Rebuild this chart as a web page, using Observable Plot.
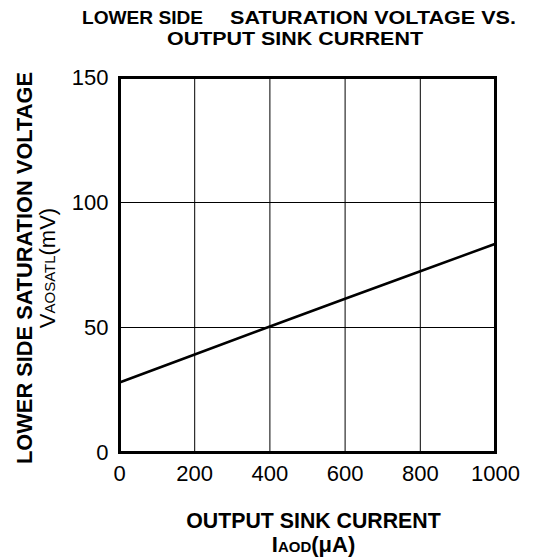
<!DOCTYPE html>
<html>
<head>
<meta charset="utf-8">
<script src="https://cdn.jsdelivr.net/npm/d3@7"></script>
<script src="https://cdn.jsdelivr.net/npm/@observablehq/plot@0.6"></script>
<style>
  html, body { margin: 0; padding: 0; background: #fff; }
  #chart svg { display: block; }
</style>
</head>
<body>
<div id="chart"></div>
<script>
const FONT = '"Liberation Sans", Arial, Helvetica, sans-serif';

// Data
const sinkCurrent = [0, 200, 400, 600, 800, 1000];          // µA
const satVoltage  = [28, 39.2, 50.4, 61.5, 72.5, 83.5];    // mV
const xTicks = [0, 200, 400, 600, 800, 1000];
const yTicks = [0, 50, 100, 150];
const xGrid = [200, 400, 600, 800];
const yGrid = [50, 100];

const data = sinkCurrent.map((x, i) => ({x, y: satVoltage[i]}));

const W = 539, H = 559;
const chart = Plot.plot({
  width: W,
  height: H,
  marginTop: 77,
  marginRight: 44,
  marginBottom: 107,
  marginLeft: 119,
  style: {fontFamily: FONT, color: "#000", background: "#fff", overflow: "visible"},
  x: {domain: [0, 1000], label: null},
  y: {domain: [0, 150], label: null},
  marks: [
    Plot.ruleX(xGrid, {stroke: "#000", strokeWidth: 1}),
    Plot.ruleY(yGrid, {stroke: "#000", strokeWidth: 1}),
    Plot.line(data, {x: "x", y: "y", stroke: "#000", strokeWidth: 2.5}),
    Plot.frame({stroke: "#000", strokeWidth: 3}),
    Plot.axisX({ticks: xTicks, tickFormat: d => String(d), tickSize: 0, tickPadding: 13, fontSize: 22, fill: "#000", label: null}),
    Plot.axisY({ticks: yTicks, tickFormat: d => String(d), tickSize: 0, tickPadding: 11, fontSize: 22, fill: "#000", label: null})
  ]
});
document.getElementById("chart").appendChild(chart);

const svg = d3.select(chart);
const g = svg.append("g").attr("font-family", FONT).attr("fill", "#000");

// Title (two lines)
g.append("text").attr("x", 82).attr("y", 23.5).attr("text-anchor", "start")
  .attr("font-size", 19).attr("font-weight", "bold")
  .attr("textLength", 121).attr("lengthAdjust", "spacingAndGlyphs")
  .text("LOWER SIDE");
g.append("text").attr("x", 230).attr("y", 23.5).attr("text-anchor", "start")
  .attr("font-size", 19).attr("font-weight", "bold")
  .attr("textLength", 286).attr("lengthAdjust", "spacingAndGlyphs")
  .text("SATURATION VOLTAGE VS.");
g.append("text").attr("x", 167).attr("y", 45).attr("text-anchor", "start")
  .attr("font-size", 19).attr("font-weight", "bold")
  .attr("textLength", 256).attr("lengthAdjust", "spacingAndGlyphs")
  .text("OUTPUT SINK CURRENT");

// Y label
g.append("text").attr("transform", "translate(32,268) rotate(-90)").attr("text-anchor", "middle")
  .attr("font-size", 21.8).attr("font-weight", "bold")
  .text("LOWER SIDE SATURATION VOLTAGE");
const yl2 = g.append("text").attr("transform", "translate(55,268) rotate(-90)").attr("text-anchor", "middle")
  .attr("font-size", 22);
yl2.append("tspan").text("V");
yl2.append("tspan").attr("font-size", 15).text("AOSATL");
yl2.append("tspan").text("(mV)");

// X label
g.append("text").attr("x", 313.5).attr("y", 528).attr("text-anchor", "middle")
  .attr("font-size", 21.3).attr("font-weight", "bold")
  .text("OUTPUT SINK CURRENT");
const xl2 = g.append("text").attr("x", 313.5).attr("y", 552).attr("text-anchor", "middle")
  .attr("font-size", 22).attr("font-weight", "bold");
xl2.append("tspan").text("I");
xl2.append("tspan").attr("font-size", 15).text("AOD");
xl2.append("tspan").text("(μA)");
</script>
</body>
</html>
